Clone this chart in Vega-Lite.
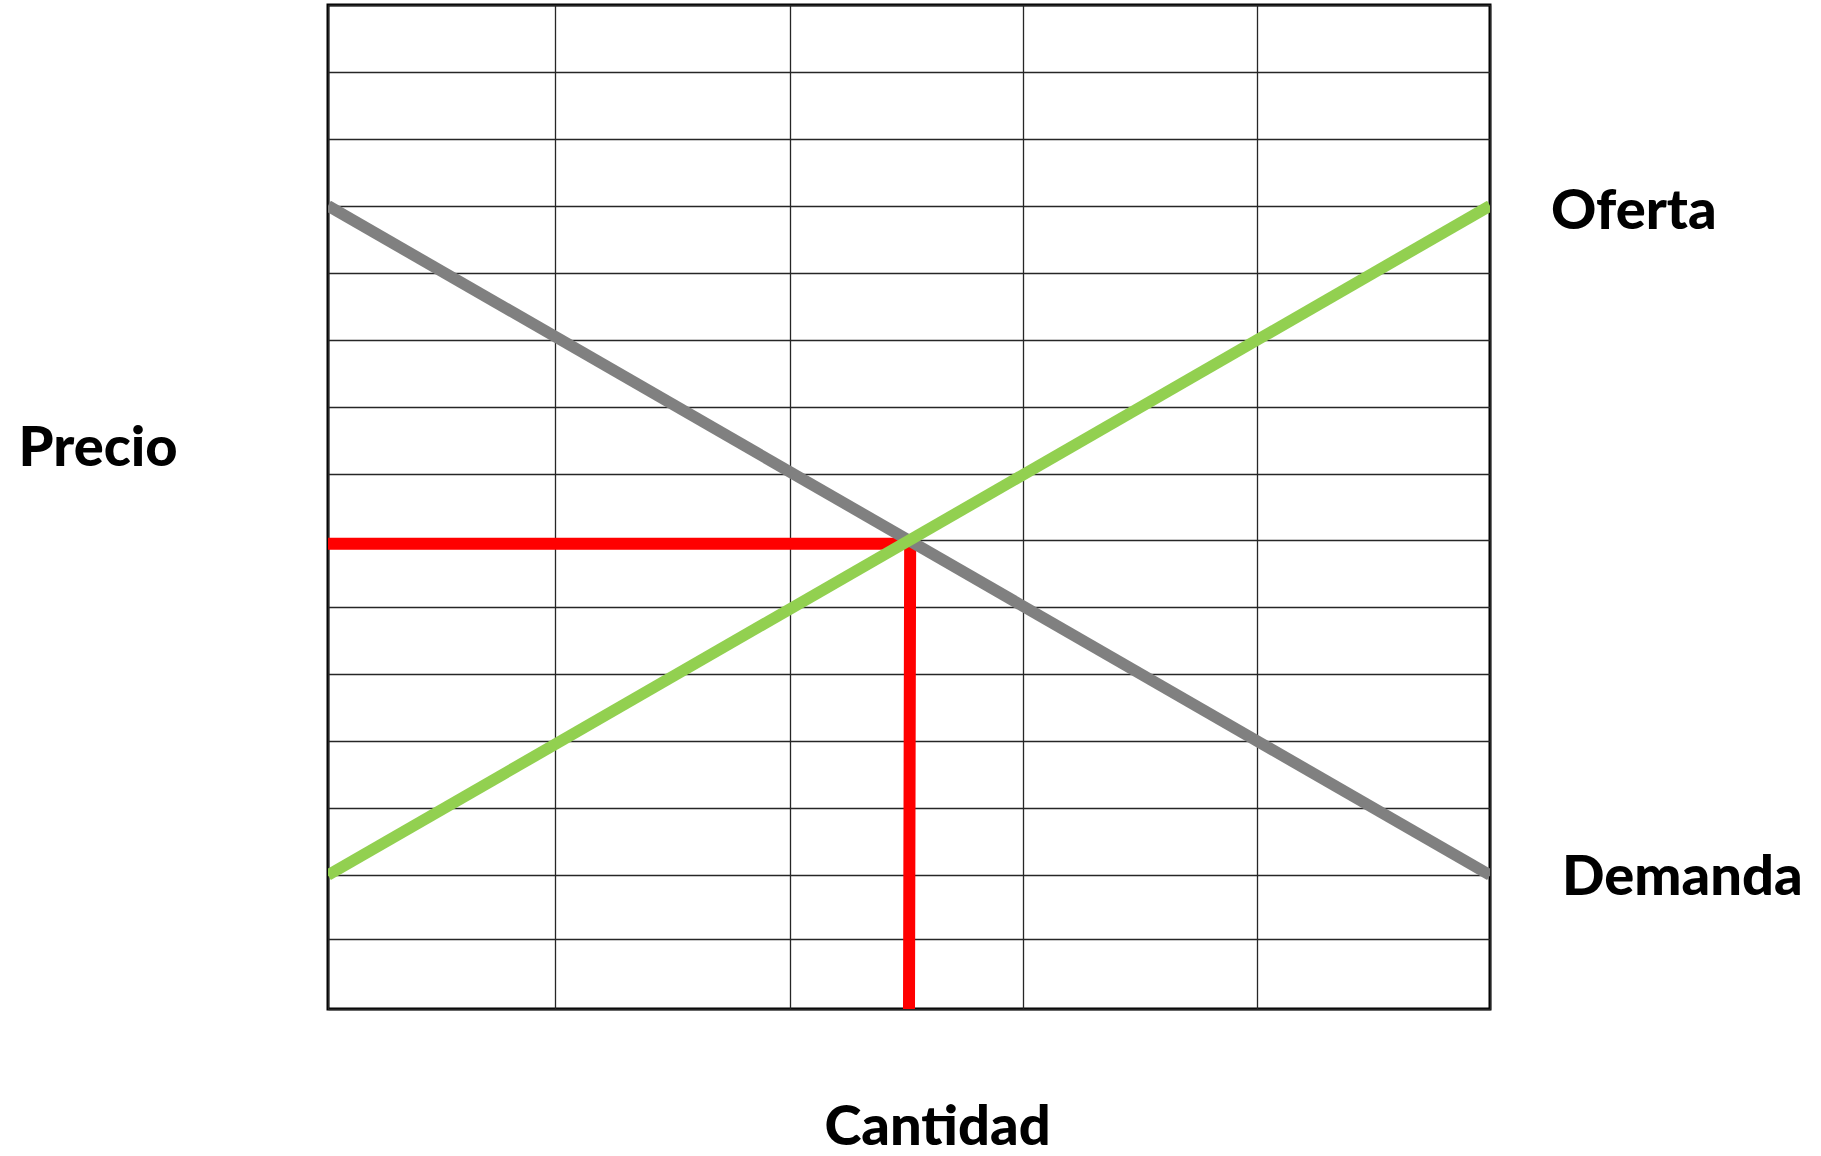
{
  "$schema": "https://vega.github.io/schema/vega-lite/v6.json",
  "width": 1162,
  "height": 1004,
  "autosize": {"type": "none"},
  "padding": {"left": 328, "top": 5, "right": 331, "bottom": 147},
  "background": "white",
  "config": {
    "view": {"stroke": "black", "strokeWidth": 3},
    "font": "Lato"
  },
  "datasets": {
    "equilibrio": [
      {"orden": 1, "cantidad": 0, "precio": 6.95},
      {"orden": 2, "cantidad": 2.505, "precio": 6.95},
      {"orden": 3, "cantidad": 2.5, "precio": 0}
    ],
    "demanda": [
      {"cantidad": 0, "precio": 12},
      {"cantidad": 5, "precio": 2}
    ],
    "oferta": [
      {"cantidad": 0, "precio": 2},
      {"cantidad": 5, "precio": 12}
    ]
  },
  "layer": [
    {
      "data": {"name": "equilibrio"},
      "mark": {"type": "line", "color": "#FF0000", "strokeWidth": 12, "strokeJoin": "miter", "strokeCap": "butt", "clip": true},
      "encoding": {
        "x": {
          "field": "cantidad", "type": "quantitative",
          "scale": {"domain": [0, 5], "nice": false, "zero": false},
          "axis": {
            "values": [0, 0.978, 1.987, 2.99, 3.996, 5],
            "grid": true, "gridColor": "#262626", "gridWidth": 1.3,
            "ticks": false, "labels": false, "domain": false,
            "title": "Cantidad", "titleFont": "Lato", "titleFontWeight": 900,
            "titleFontSize": 56, "titleColor": "black",
            "titleX": 609, "titleY": 118, "titleBaseline": "middle", "titleAlign": "center"
          }
        },
        "y": {
          "field": "precio", "type": "quantitative",
          "scale": {"domain": [0, 15], "nice": false, "zero": false},
          "axis": {
            "values": [0, 1.04, 2, 3, 4, 5, 6, 7, 8, 9, 10, 11, 12, 13, 14, 15],
            "grid": true, "gridColor": "#262626", "gridWidth": 1.3,
            "ticks": false, "labels": false, "domain": false,
            "title": "Precio", "titleFont": "Lato", "titleFontWeight": 900,
            "titleFontSize": 56, "titleColor": "black", "titleAngle": 0,
            "titleX": -310, "titleY": 443, "titleBaseline": "middle", "titleAlign": "left"
          }
        },
        "order": {"field": "orden", "type": "quantitative"}
      }
    },
    {
      "data": {"name": "demanda"},
      "mark": {"type": "line", "color": "#808080", "strokeWidth": 11.5, "strokeCap": "butt", "clip": true},
      "encoding": {
        "x": {"field": "cantidad", "type": "quantitative"},
        "y": {"field": "precio", "type": "quantitative"}
      }
    },
    {
      "data": {"name": "oferta"},
      "mark": {"type": "line", "color": "#92D050", "strokeWidth": 11.5, "strokeCap": "butt", "clip": true},
      "encoding": {
        "x": {"field": "cantidad", "type": "quantitative"},
        "y": {"field": "precio", "type": "quantitative"}
      }
    },
    {
      "data": {"values": [{"etiqueta": "Oferta", "cantidad": 5, "precio": 12}]},
      "mark": {"type": "text", "align": "left", "baseline": "middle", "dx": 61, "dy": 6, "font": "Lato", "fontWeight": 900, "fontSize": 56, "color": "black"},
      "encoding": {
        "x": {"field": "cantidad", "type": "quantitative"},
        "y": {"field": "precio", "type": "quantitative"},
        "text": {"field": "etiqueta"}
      }
    },
    {
      "data": {"values": [{"etiqueta": "Demanda", "cantidad": 5, "precio": 2}]},
      "mark": {"type": "text", "align": "left", "baseline": "middle", "dx": 72, "dy": 3, "font": "Lato", "fontWeight": 900, "fontSize": 56, "color": "black"},
      "encoding": {
        "x": {"field": "cantidad", "type": "quantitative"},
        "y": {"field": "precio", "type": "quantitative"},
        "text": {"field": "etiqueta"}
      }
    }
  ]
}
